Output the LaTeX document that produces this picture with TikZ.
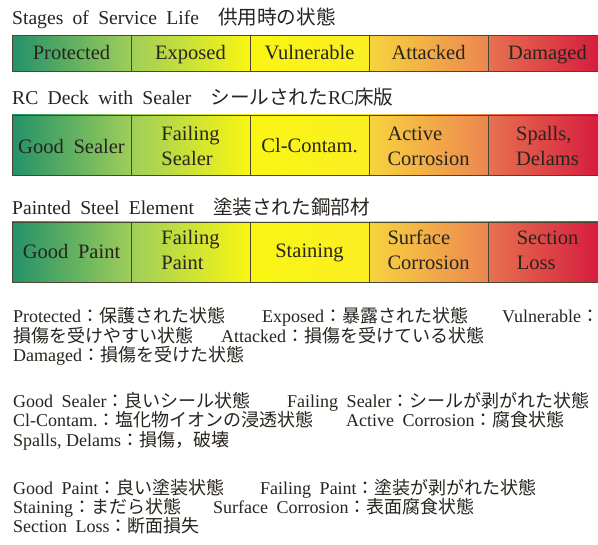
\documentclass[tikz,border=0pt]{standalone}
\usepackage{fontspec}
\setmainfont{Liberation Serif}[WordSpace=1.9]
\newfontfamily\jp{Noto Sans CJK JP}
\newcommand{\J}[1]{{\jp #1}}
\definecolor{cA}{RGB}{35,145,105}
\definecolor{cB}{RGB}{158,206,90}
\definecolor{cC}{RGB}{250,246,18}
\definecolor{cD}{RGB}{250,238,35}
\definecolor{cE}{RGB}{248,212,62}
\definecolor{cF}{RGB}{236,134,80}
\definecolor{cG}{RGB}{231,114,80}
\definecolor{cH}{RGB}{212,22,60}
\definecolor{edge}{RGB}{75,70,50}
\definecolor{ink}{RGB}{40,36,30}
\tikzset{
  cellbox/.style={draw=edge, line width=0.7pt},
  segA/.style={cellbox, left color=cA, right color=cB},
  segB/.style={cellbox, left color=cB, right color=cC},
  segC/.style={cellbox, left color=cC, right color=cD},
  segD/.style={cellbox, left color=cE, right color=cF},
  segE/.style={cellbox, left color=cG, right color=cH},
  lbl/.style={font=\fontsize{20.5}{25}\selectfont, text=ink, inner sep=0pt, align=left, anchor=base},
  ttl/.style={font=\fontsize{19.6}{23}\selectfont, text=ink, inner sep=0pt, anchor=base west},
  bodytxt/.style={font=\fontsize{18}{20}\selectfont, text=ink, inner sep=0pt, anchor=base west}
}
\begin{document}
\begin{tikzpicture}[x=1pt,y=-1pt]
\useasboundingbox (0,0) rectangle (598,545);
\fill[white] (0,0) rectangle (598,545);
\clip (0,0) rectangle (598,545);

% titles
\node[ttl] (t1) at (12,25) {Stages of Service Life\hspace{19pt}\J{供用時の状態}};
\node[ttl] (t2) at (12,105) {RC Deck with Sealer\hspace{19pt}\J{シールされた}RC\J{床版}};
\node[ttl] (t3) at (12,215) {Painted Steel Element\hspace{19pt}\J{塗装された鋼部材}};

% bar 1
\path[segA] (12,35.5) rectangle (131,71.5);
\path[segB] (131,35.5) rectangle (250,71.5);
\path[segC] (250,35.5) rectangle (369,71.5);
\path[segD] (369,35.5) rectangle (488,71.5);
\path[segE] (488,35.5) rectangle (607,71.5);
\node[lbl] (a1) at (71.5,60) {Protected};
\node[lbl] (a2) at (190.5,60) {Exposed};
\node[lbl] (a3) at (309.5,60) {Vulnerable};
\node[lbl] (a4) at (428.5,60) {Attacked};
\node[lbl] (a5) at (547.5,60) {Damaged};

% bar 2
\path[segA] (12,115) rectangle (131,175);
\path[segB] (131,115) rectangle (250,175);
\path[segC] (250,115) rectangle (369,175);
\path[segD] (369,115) rectangle (488,175);
\path[segE] (488,115) rectangle (607,175);
\node[lbl] (b1) at (71.5,153.5) {Good Sealer};
\node[lbl] (b2) at (190.5,166) {Failing\\Sealer};
\node[lbl] (b3) at (309.5,153) {Cl-Contam.};
\node[lbl] (b4) at (428.5,166) {Active\\Corrosion};
\node[lbl] (b5) at (547.5,166) {Spalls,\\Delams};

% bar 3
\path[segA] (12,222) rectangle (131,282);
\path[segB] (131,222) rectangle (250,282);
\path[segC] (250,222) rectangle (369,282);
\path[segD] (369,222) rectangle (488,282);
\path[segE] (488,222) rectangle (607,282);
\node[lbl] (c1) at (71.5,258.5) {Good Paint};
\node[lbl] (c2) at (190.5,270) {Failing\\Paint};
\node[lbl] (c3) at (309.5,258) {Staining};
\node[lbl] (c4) at (428.5,270) {Surface\\Corrosion};
\node[lbl] (c5) at (547.5,270) {Section\\Loss};

% legend block 1
\node[bodytxt] (d1) at (13,323) {Protected\J{：保護された状態}};
\node[bodytxt] (d2) at (262,323) {Exposed\J{：暴露された状態}};
\node[bodytxt] (d3) at (502,323) {Vulnerable\J{：}};
\node[bodytxt] (d4) at (13,342.5) {\J{損傷を受けやすい状態}};
\node[bodytxt] (d5) at (221,342.5) {Attacked\J{：損傷を受けている状態}};
\node[bodytxt] (d6) at (13,362) {Damaged\J{：損傷を受けた状態}};

% legend block 2
\node[bodytxt] (e1) at (13,408) {Good Sealer\J{：良いシール状態}};
\node[bodytxt] (e2) at (287,408) {Failing Sealer\J{：シールが剥がれた状態}};
\node[bodytxt] (e3) at (13,427) {Cl-Contam.\J{：塩化物イオンの浸透状態}};
\node[bodytxt] (e4) at (346,427) {Active Corrosion\J{：腐食状態}};
\node[bodytxt] (e5) at (13,446.5) {Spalls,\hspace{0.25em}Delams\J{：損傷，破壊}};

% legend block 3
\node[bodytxt] (f1) at (13,495) {Good Paint\J{：良い塗装状態}};
\node[bodytxt] (f2) at (260,495) {Failing Paint\J{：塗装が剥がれた状態}};
\node[bodytxt] (f3) at (13,514) {Staining\J{：まだら状態}};
\node[bodytxt] (f4) at (213,514) {Surface Corrosion\J{：表面腐食状態}};
\node[bodytxt] (f5) at (13,533) {Section Loss\J{：断面損失}};
\end{tikzpicture}
\end{document}
